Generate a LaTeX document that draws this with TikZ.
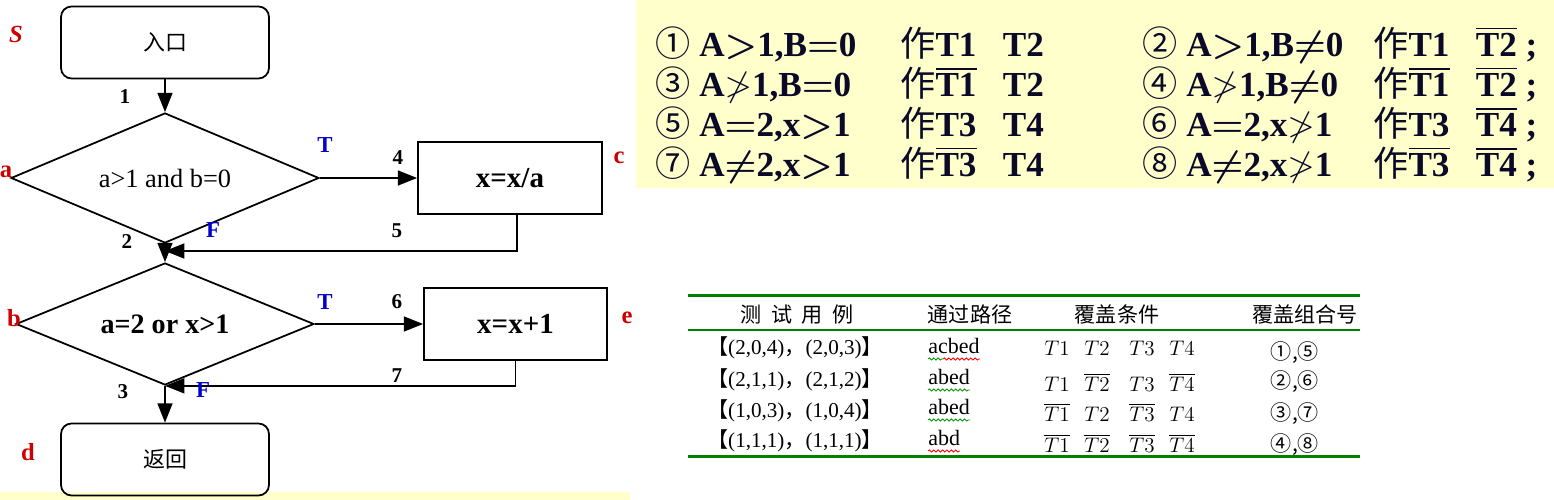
\documentclass[tikz,border=0pt]{standalone}
\usepackage{amsmath, amssymb}
\usepackage{fontspec}
\setmainfont{Liberation Serif}
\newfontfamily\cjk{Noto Sans CJK SC}
\usepackage{tikz}
\usetikzlibrary{shapes.geometric, arrows.meta, decorations.pathmorphing}

\definecolor{paper}{RGB}{255,255,204}
\definecolor{rulegreen}{RGB}{0,128,0}
\definecolor{labred}{RGB}{204,0,0}
\definecolor{labblue}{RGB}{0,0,204}
\definecolor{ink}{RGB}{10,10,40}

% circled number and CJK glyph in the condition panel
\newcommand{\circnum}[1]{{\cjk\mdseries #1}}
\newcommand{\zuo}{{\cjk\mdseries 作}}
\newcommand{\gap}{\hspace{0.75em}}

\tikzset{
  endbox/.style={draw, line width=1pt, rounded corners=6pt, minimum width=4.16cm, minimum height=1.44cm, font=\cjk\fontsize{12.5}{14}\selectfont},
  procbox/.style={draw, line width=1pt, minimum width=3.68cm, minimum height=1.44cm, font=\bfseries\fontsize{16.5}{18}\selectfont},
  decision/.style={draw, line width=1pt, diamond, aspect=2.4, inner sep=0pt},
  arr/.style={-{Triangle[length=11pt,width=8.5pt]}, line width=1pt},
  num/.style={font=\bfseries\fontsize{12}{14}\selectfont},
  tflab/.style={text=labblue, font=\bfseries\fontsize{13}{15}\selectfont},
  ptlab/.style={text=labred, font=\bfseries\fontsize{14}{16}\selectfont},
  cond/.style={anchor=base west, inner sep=0pt, text=ink, font=\bfseries\boldmath\fontsize{20}{24}\selectfont},
  head/.style={anchor=base, inner sep=0pt, font=\cjk\fontsize{12}{14}\selectfont},
  cell/.style={anchor=base, inner sep=0pt, font=\fontsize{12}{14}\selectfont},
  tcell/.style={anchor=base, inner sep=0pt, font=\fontsize{12.5}{14}\selectfont},
  pair/.style={anchor=base, inner sep=0pt, font=\cjk\fontsize{12}{14}\selectfont},
  squig/.style={decorate, decoration={snake, amplitude=0.6pt, segment length=2.5pt}, line width=0.5pt}
}

\begin{document}
\begin{tikzpicture}
        \useasboundingbox (0,0) rectangle (31.08,10);

        % Yellow backgrounds
        \fill[paper] (12.72,6.24) rectangle (31.08,10);
        \fill[paper] (0,0) rectangle (12.6,0.16);

        % Flow chart: entry, decisions, assignments, exit
        \node[endbox] (start) at (3.3,9.15) {入口};
        \node[decision, minimum width=6.16cm, minimum height=2.6cm, font=\rmfamily\fontsize{15}{17}\selectfont] (dec1) at (3.3,6.44) {a>1 and b=0};
        \node[procbox] (boxc) at (10.2,6.44) {x=x/a};
        \node[decision, minimum width=5.96cm, minimum height=2.44cm, font=\rmfamily\bfseries\fontsize{16}{18}\selectfont] (dec2) at (3.3,3.52) {a=2 or x>1};
        \node[procbox, minimum width=3.66cm] (boxe) at (10.31,3.52) {x=x+1};
        \node[endbox] (stop) at (3.3,0.81) {返回};
        \coordinate (j1) at (3.3,4.98);

        % Connectors
        \draw[arr] (start) -- (dec1);
        \draw[arr] (dec1) -- (boxc);
        \draw[arr] (dec1.south) -- (dec2.north);
        \draw[arr] ([xshift=0.14cm]boxc.south) |- (j1);
        \draw[arr] (dec2) -- (boxe);
        \draw[arr] (boxe.south) |- (dec2.south);
        \draw[arr] (dec2) -- (stop);

        % Point labels
        \node[ptlab] (lS) at (0.32,9.32) {\itshape S};
        \node[ptlab] (la) at (0.12,6.56) {a};
        \node[ptlab] (lc) at (12.38,6.84) {c};
        \node[ptlab] (lb) at (0.28,3.64) {b};
        \node[ptlab] (le) at (12.54,3.64) {e};
        \node[ptlab] (ld) at (0.56,0.96) {d};

        % Branch labels
        \node[tflab] (t1) at (6.5,7.1) {T};
        \node[tflab] (f1) at (4.26,5.4) {F};
        \node[tflab] (t2) at (6.5,3.96) {T};
        \node[tflab] (f2) at (4.06,2.2) {F};

        % Edge numbers
        \node[num] (n1) at (2.5,8.06) {1};
        \node[num] (n2) at (2.54,5.16) {2};
        \node[num] (n3) at (2.46,2.16) {3};
        \node[num] (n4) at (7.96,6.84) {4};
        \node[num] (n5) at (7.94,5.38) {5};
        \node[num] (n6) at (7.94,3.96) {6};
        \node[num] (n7) at (7.94,2.48) {7};

        % Condition combinations
        \node[cond] (c1) at (13.1,8.86) {\circnum{①} A$>$1,B$=$0};
        \node[cond] (c3) at (13.1,8.06) {\circnum{③} A$\ngtr$1,B$=$0};
        \node[cond] (c5) at (13.1,7.26) {\circnum{⑤} A$=$2,x$>$1};
        \node[cond] (c7) at (13.1,6.46) {\circnum{⑦} A$\neq$2,x$>$1};
        \node[cond] (w1) at (18.0,8.86) {\zuo T1\gap T2};
        \node[cond] (w3) at (18.0,8.06) {\zuo$\overline{\mbox{T1}}$\gap T2};
        \node[cond] (w5) at (18.0,7.26) {\zuo T3\gap T4};
        \node[cond] (w7) at (18.0,6.46) {\zuo$\overline{\mbox{T3}}$\gap T4};
        \node[cond] (c2) at (22.84,8.86) {\circnum{②} A$>$1,B$\neq$0};
        \node[cond] (c4) at (22.84,8.06) {\circnum{④} A$\ngtr$1,B$\neq$0};
        \node[cond] (c6) at (22.84,7.26) {\circnum{⑥} A$=$2,x$\ngtr$1};
        \node[cond] (c8) at (22.84,6.46) {\circnum{⑧} A$\neq$2,x$\ngtr$1};
        \node[cond] (w2) at (27.46,8.86) {\zuo T1\gap$\overline{\mbox{T2}}$ ;};
        \node[cond] (w4) at (27.46,8.06) {\zuo$\overline{\mbox{T1}}$\gap$\overline{\mbox{T2}}$ ;};
        \node[cond] (w6) at (27.46,7.26) {\zuo T3\gap$\overline{\mbox{T4}}$ ;};
        \node[cond] (w8) at (27.46,6.46) {\zuo$\overline{\mbox{T3}}$\gap$\overline{\mbox{T4}}$ ;};

        % Test case table: rules
        \draw[rulegreen, line width=1.7pt] (13.76,4.08) -- (27.2,4.08);
        \draw[rulegreen, line width=1pt] (13.76,3.4) -- (27.2,3.4);
        \draw[rulegreen, line width=1.7pt] (13.76,0.86) -- (27.2,0.86);

        % Table header
        \node[head] (h1) at (15.94,3.54) {测\hspace{0.45em}试\hspace{0.45em}用\hspace{0.45em}例};
        \node[head] (h2) at (19.4,3.54) {通过路径};
        \node[head] (h3) at (22.34,3.54) {覆盖条件};
        \node[head] (h4) at (26.1,3.54) {覆盖组合号};

        % Table rows
        \node[cell] (r1) at (15.9,2.9) {{\cjk 【}(2,0,4){\cjk ，}(2,0,3){\cjk 】}};
        \node[cell] (r2) at (15.9,2.26) {{\cjk 【}(2,1,1){\cjk ，}(2,1,2){\cjk 】}};
        \node[cell] (r3) at (15.9,1.64) {{\cjk 【}(1,0,3){\cjk ，}(1,0,4){\cjk 】}};
        \node[cell] (r4) at (15.9,1.04) {{\cjk 【}(1,1,1){\cjk ，}(1,1,1){\cjk 】}};

        \node[tcell, anchor=base west] (p1) at (18.56,2.92) {acbed};
        \node[tcell, anchor=base west] (p2) at (18.56,2.3) {abed};
        \node[tcell, anchor=base west] (p3) at (18.56,1.7) {abed};
        \node[tcell, anchor=base west] (p4) at (18.56,1.08) {abd};
        \draw[squig, green!60!black] (18.56,2.82) -- (18.86,2.82);
        \draw[squig, red] (18.86,2.82) -- (19.6,2.82);
        \draw[squig, green!60!black] (18.56,2.2) -- (19.4,2.2);
        \draw[squig, green!60!black] (18.56,1.6) -- (19.4,1.6);
        \draw[squig, red] (18.56,0.98) -- (19.2,0.98);

        \node[tcell] (a1) at (21.14,2.88) {$T1$};
        \node[tcell] (b1) at (21.94,2.88) {$T2$};
        \node[tcell] (x1) at (22.84,2.88) {$T3$};
        \node[tcell] (y1) at (23.64,2.88) {$T4$};
        \node[tcell] (a2) at (21.14,2.16) {$T1$};
        \node[tcell] (b2) at (21.94,2.16) {$\overline{T2}$};
        \node[tcell] (x2) at (22.84,2.16) {$T3$};
        \node[tcell] (y2) at (23.64,2.16) {$\overline{T4}$};
        \node[tcell] (a3) at (21.14,1.56) {$\overline{T1}$};
        \node[tcell] (b3) at (21.94,1.56) {$T2$};
        \node[tcell] (x3) at (22.84,1.56) {$\overline{T3}$};
        \node[tcell] (y3) at (23.64,1.56) {$T4$};
        \node[tcell] (a4) at (21.14,0.94) {$\overline{T1}$};
        \node[tcell] (b4) at (21.94,0.94) {$\overline{T2}$};
        \node[tcell] (x4) at (22.84,0.94) {$\overline{T3}$};
        \node[tcell] (y4) at (23.64,0.94) {$\overline{T4}$};

        \node[pair] (k1) at (25.9,2.8) {①,⑤};
        \node[pair] (k2) at (25.9,2.22) {②,⑥};
        \node[pair] (k3) at (25.9,1.58) {③,⑦};
        \node[pair] (k4) at (25.9,0.96) {④,⑧};
    \end{tikzpicture}
\end{document}
